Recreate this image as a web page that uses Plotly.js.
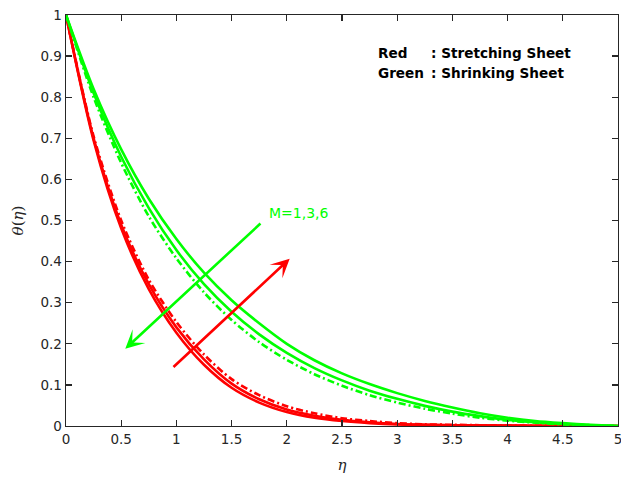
<!DOCTYPE html>
<html>
<head>
<meta charset="utf-8">
<script src="https://cdn.plot.ly/plotly-3.0.1.min.js"></script>
<style>html,body{margin:0;padding:0;background:#fff;}#chart{width:621px;height:477px;}</style>
</head>
<body>
<div id="chart"></div>
<script>
const eta = [0,0.25,0.5,0.75,1,1.25,1.5,1.75,2,2.25,2.5,2.75,3,3.25,3.5,3.75,4,4.25,4.5,4.75,5];
const redM1 = [1,0.695,0.481,0.333,0.227,0.149,0.093,0.057,0.034,0.020,0.012,0.007,0.004,0.003,0.002,0.001,0.001,0.0005,0.0003,0.0001,0];
const redM3 = [1,0.700,0.490,0.345,0.240,0.162,0.103,0.065,0.040,0.025,0.015,0.009,0.005,0.003,0.002,0.0015,0.001,0.0006,0.0003,0.0001,0];
const redM6 = [1,0.705,0.500,0.356,0.253,0.174,0.114,0.075,0.048,0.031,0.019,0.012,0.007,0.004,0.003,0.002,0.001,0.0007,0.0004,0.0002,0];
const greenM1 = [1,0.820,0.673,0.553,0.455,0.373,0.306,0.250,0.200,0.160,0.128,0.102,0.080,0.061,0.045,0.031,0.020,0.012,0.007,0.003,0];
const greenM3 = [1,0.810,0.655,0.530,0.428,0.345,0.278,0.223,0.178,0.141,0.111,0.086,0.066,0.049,0.035,0.024,0.015,0.009,0.005,0.002,0];
const greenM6 = [1,0.800,0.640,0.510,0.408,0.325,0.258,0.204,0.161,0.126,0.098,0.075,0.057,0.042,0.030,0.020,0.013,0.008,0.004,0.002,0];

const RED = '#ff0000', GREEN = '#00ff00';
const DASHDOT = '7px,3px,2px,3px';
const W = 2.6;

function tr(y, color, dash, name){
  return {x: eta, y: y, type:'scatter', mode:'lines', name:name,
    line:{color:color, width:W, dash:dash, shape:'spline', smoothing:0.8}, showlegend:false, hoverinfo:'skip'};
}

const data = [
  tr(redM1, RED, 'solid', 'Stretching M=1'),
  tr(redM3, RED, 'solid', 'Stretching M=3'),
  tr(redM6, RED, DASHDOT, 'Stretching M=6'),
  tr(greenM1, GREEN, 'solid', 'Shrinking M=1'),
  tr(greenM3, GREEN, 'solid', 'Shrinking M=3'),
  tr(greenM6, GREEN, DASHDOT, 'Shrinking M=6')
];

const axisCommon = {
  showgrid:false, zeroline:false, showline:true, linecolor:'#262626', linewidth:1.4,
  mirror:'ticks', ticks:'inside', ticklen:6, tickwidth:1.4, tickcolor:'#262626',
  tickfont:{family:'DejaVu Sans, sans-serif', size:13.5, color:'#262626'},
  automargin:false, ticklabeloverflow:'allow'
};

const legFont = {family:'DejaVu Sans, sans-serif', size:13.6, color:'#000'};

const layout = {
  width:621, height:477,
  margin:{l:66, r:3, t:15, b:51},
  paper_bgcolor:'#fff', plot_bgcolor:'#fff',
  showlegend:false,
  xaxis: Object.assign({}, axisCommon, {range:[0,5], dtick:0.5, tick0:0,
    title:{text:'<i>η</i>', font:{family:'DejaVu Serif, Liberation Serif, serif', size:15, color:'#262626'}, standoff:14}}),
  yaxis: Object.assign({}, axisCommon, {range:[0,1], dtick:0.1, tick0:0,
    title:{text:'<i>θ</i>(<i>η</i>)', font:{family:'DejaVu Serif, Liberation Serif, serif', size:15, color:'#262626'}, standoff:13}}),
  annotations:[
    {xref:'x', yref:'y', axref:'x', ayref:'y', x:0.537, y:0.188, ax:1.775, ay:0.496, text:'', showarrow:true,
     arrowhead:3, arrowsize:1.2, arrowwidth:2.6, arrowcolor:GREEN, standoff:0, startstandoff:0},
    {xref:'x', yref:'y', axref:'x', ayref:'y', x:2.026, y:0.407, ax:0.96, ay:0.14, text:'', showarrow:true,
     arrowhead:3, arrowsize:1.2, arrowwidth:2.6, arrowcolor:RED, standoff:0, startstandoff:0},
    {xref:'x', yref:'y', x:1.825, y:0.519, xanchor:'left', yanchor:'middle', text:'M=1,3,6', showarrow:false,
     font:{family:'DejaVu Sans, sans-serif', size:14, color:GREEN}},
    {xref:'paper', yref:'paper', x:(376-66)/552, y:(426-53)/411, xanchor:'left', yanchor:'middle', text:'<b>Red</b>', showarrow:false, font:legFont},
    {xref:'paper', yref:'paper', x:(429-66)/552, y:(426-53)/411, xanchor:'left', yanchor:'middle', text:'<b>: Stretching Sheet</b>', showarrow:false, font:legFont},
    {xref:'paper', yref:'paper', x:(376-66)/552, y:(426-73)/411, xanchor:'left', yanchor:'middle', text:'<b>Green</b>', showarrow:false, font:legFont},
    {xref:'paper', yref:'paper', x:(429-66)/552, y:(426-73)/411, xanchor:'left', yanchor:'middle', text:'<b>: Shrinking Sheet</b>', showarrow:false, font:legFont}
  ]
};

Plotly.newPlot('chart', data, layout, {staticPlot:true, displayModeBar:false});
</script>
</body>
</html>
